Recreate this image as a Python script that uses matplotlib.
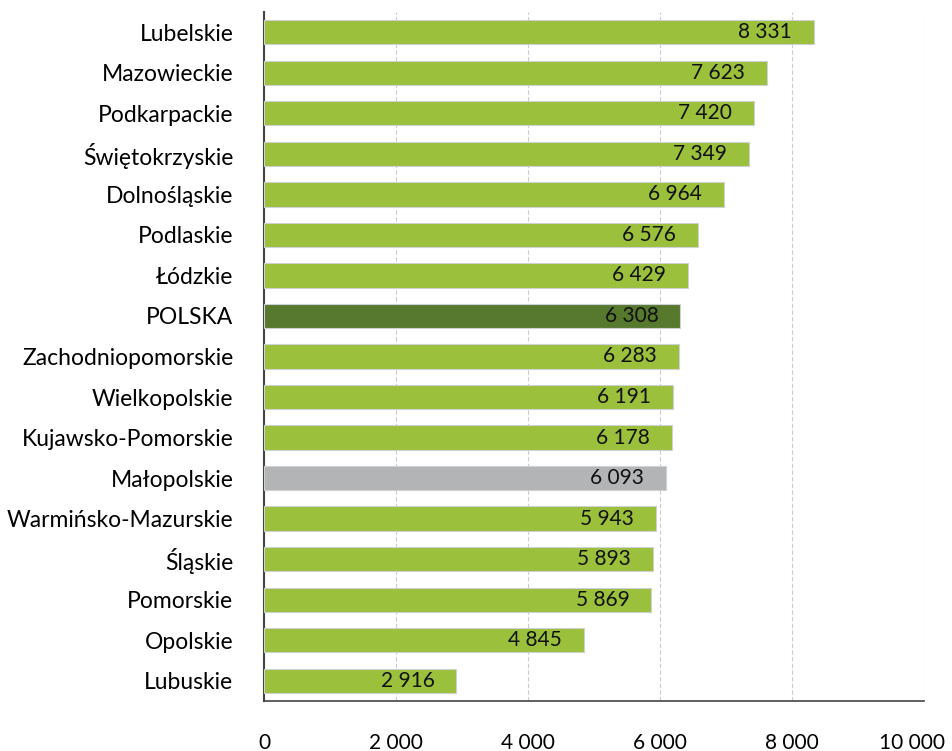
import matplotlib
matplotlib.use("Agg")
import matplotlib.pyplot as plt
import matplotlib.transforms as mtransforms
from matplotlib.ticker import FuncFormatter

categories = ["Lubelskie", "Mazowieckie", "Podkarpackie", "Świętokrzyskie", "Dolnośląskie",
              "Podlaskie", "Łódzkie", "POLSKA", "Zachodniopomorskie", "Wielkopolskie",
              "Kujawsko-Pomorskie", "Małopolskie", "Warmińsko-Mazurskie", "Śląskie",
              "Pomorskie", "Opolskie", "Lubuskie"]
values = [8331, 7623, 7420, 7349, 6964, 6576, 6429, 6308, 6283, 6191, 6178, 6093,
          5943, 5893, 5869, 4845, 2916]
ticks = [0, 2000, 4000, 6000, 8000, 10000]

GREEN = "#9bc03b"
DARK = "#56792e"
GREY = "#b3b4b6"
colors = [DARK if c == "POLSKA" else GREY if c == "Małopolskie" else GREEN for c in categories]

plt.rcParams['font.family'] = ['Lato', 'DejaVu Sans']

def fmt(v):
    return f"{int(v):,}".replace(",", " ")

fig = plt.figure(figsize=(9.52, 7.51), dpi=100)
ax = fig.add_axes([264/952, 1-701/751, (924-264)/952, (701-12)/751])

y = list(range(len(categories)))
ax.barh(y, values, height=0.6, color=colors, edgecolor="#cfd2d4", linewidth=0.8, zorder=3)
ax.set_ylim(len(categories) - 0.5, -0.5)
ax.set_xlim(0, 10000)
ax.set_xticks(ticks)
ax.xaxis.set_major_formatter(FuncFormatter(lambda v, p: fmt(v)))
ax.set_yticks(y)
ax.set_yticklabels(categories)
ax.tick_params(axis='y', length=0, pad=22, labelsize=16.5)
ax.tick_params(axis='x', length=0, pad=23, labelsize=15)

# shift the last tick label slightly left so it fits in the figure
last = ax.get_xticklabels()[-1]
last.set_transform(last.get_transform() + mtransforms.ScaledTranslation(-12/100, 0, fig.dpi_scale_trans))

for yi, v in zip(y, values):
    ax.annotate(fmt(v), xy=(v, yi), xytext=(-22, 0), textcoords="offset pixels",
                ha="right", va="center", fontsize=15, color="#111111", zorder=4)

ax.grid(axis='x', color="#cccccc", linestyle=(0, (4, 2)), linewidth=0.8, zorder=0)
for s in ["top", "right"]:
    ax.spines[s].set_visible(False)
ax.spines["left"].set_color("#444444")
ax.spines["left"].set_linewidth(1.5)
ax.spines["bottom"].set_color("#444444")
ax.spines["bottom"].set_linewidth(1.2)

fig.savefig("out.png", dpi=100)
